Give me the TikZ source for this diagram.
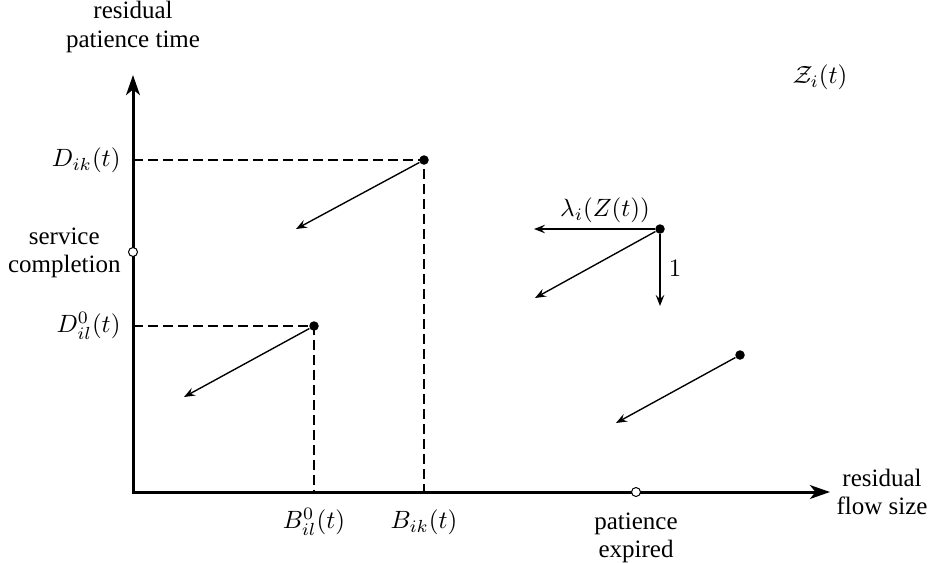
\documentclass[tikz,border=0pt]{standalone}
\usepackage{fontspec}
\setmainfont{Liberation Serif}
\usetikzlibrary{arrows.meta}
\begin{document}
\begin{tikzpicture}[x=0.4pt,y=-0.4pt,
  axis/.style={line width=1.2pt,{Stealth[length=8pt,width=5.5pt,inset=2.2pt]}-{Stealth[length=8pt,width=5.5pt,inset=2.2pt]}},
  mv/.style={line width=0.55pt,-{Stealth[length=4.4pt,width=3.4pt,inset=1.6pt]}},
  guide/.style={dash pattern=on 4pt off 2pt,line width=0.55pt},
  dot/.style={circle,fill,inner sep=0pt,minimum size=3.8pt},
  hole/.style={circle,draw,fill=white,line width=0.4pt,inner sep=0pt,minimum size=3.6pt},
  lbl/.style={align=center,inner sep=0pt,font=\fontsize{10}{11.3}\selectfont},
  mlbl/.style={inner sep=0pt,font=\fontsize{10}{12}\selectfont}]
\useasboundingbox (0,0) rectangle (932,562);
% axes
\coordinate (O) at (133,492);
\coordinate (ytop) at (133,75);
\coordinate (xend) at (830,492);
\draw[axis] (ytop) -- (O) -- (xend);
\node[lbl] (ylab) at (133,27) {residual\\patience time};
\node[lbl] (xlab) at (882,492) {residual\\flow size};
\node[mlbl] (Zlab) at (820,77) {$\mathcal{Z}_i(t)$};
% first customer
\node[dot] (p1) at (424,160) {};
\coordinate (y1) at (133,160);
\coordinate (x1) at (424,492);
\draw[guide] (y1) -- (p1.center) -- (x1);
\node[mlbl,anchor=east] (Dik) at (121,160) {$D_{ik}(t)$};
\node[mlbl] (Bik) at (424,522) {$B_{ik}(t)$};
\coordinate (a1) at (296,229);
\draw[mv] (p1) -- (a1);
% second customer
\node[dot] (p2) at (314,326) {};
\coordinate (y2) at (133,326);
\coordinate (x2) at (314,492);
\draw[guide] (y2) -- (p2.center) -- (x2);
\node[mlbl,anchor=east] (Dil) at (121,326) {$D^0_{il}(t)$};
\node[mlbl] (Bil) at (314,522) {$B^0_{il}(t)$};
\coordinate (a2) at (184,397);
\draw[mv] (p2) -- (a2);
% generic point with rates
\node[dot] (p3) at (660,229) {};
\coordinate (a3l) at (534,229);
\coordinate (a3d) at (660,306);
\coordinate (a3) at (535,298);
\draw[mv] (p3) -- (a3l);
\draw[mv] (p3) -- (a3d);
\draw[mv] (p3) -- (a3);
\node[mlbl] (lam) at (605,210) {$\lambda_i(Z(t))$};
\node[mlbl] (one) at (675,268) {$1$};
% fourth point
\node[dot] (p4) at (740,355) {};
\coordinate (a4) at (616,423);
\draw[mv] (p4) -- (a4);
% boundary markers
\node[hole] (sc) at (133,252) {};
\node[lbl,anchor=east] (sclab) at (121,253) {service\\completion};
\node[hole] (pe) at (636,492) {};
\node[lbl,anchor=north] (pelab) at (636,512) {patience\\expired};
\end{tikzpicture}
\end{document}
